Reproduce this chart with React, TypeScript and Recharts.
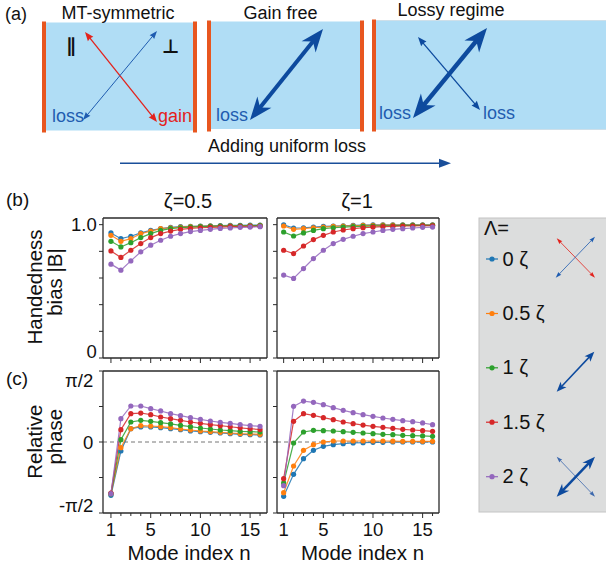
import React from 'react';
import { LineChart, Line, XAxis, YAxis, ReferenceLine } from 'recharts';

const FONT = '"Liberation Sans", Arial, Helvetica, sans-serif';

// ---------- data ----------
const modeIndex = [1, 2, 3, 4, 5, 6, 7, 8, 9, 10, 11, 12, 13, 14, 15, 16];
const xMajorTicks = [1, 5, 10, 15];
const lambdaLabels = ['0 ζ', '0.5 ζ', '1 ζ', '1.5 ζ', '2 ζ'];
const seriesColors = ['#1f77b4', '#ff7f0e', '#2ca02c', '#d62728', '#9467bd'];

// (b) handedness bias |B|, zeta = 0.5
const biasZ05_L0 = [0.938, 0.895, 0.913, 0.938, 0.957, 0.97, 0.98, 0.985, 0.987, 0.99, 0.992, 0.993, 0.995, 0.995, 0.996, 0.997];
const biasZ05_L05 = [0.92, 0.875, 0.895, 0.933, 0.952, 0.97, 0.977, 0.982, 0.985, 0.987, 0.989, 0.99, 0.991, 0.992, 0.993, 0.994];
const biasZ05_L1 = [0.875, 0.833, 0.865, 0.903, 0.933, 0.957, 0.97, 0.977, 0.982, 0.985, 0.987, 0.99, 0.99, 0.991, 0.992, 0.993];
const biasZ05_L15 = [0.803, 0.754, 0.808, 0.858, 0.903, 0.933, 0.952, 0.965, 0.972, 0.977, 0.98, 0.982, 0.985, 0.986, 0.987, 0.988];
const biasZ05_L2 = [0.704, 0.659, 0.728, 0.796, 0.846, 0.883, 0.913, 0.933, 0.948, 0.957, 0.965, 0.972, 0.975, 0.98, 0.982, 0.985];

// (b) handedness bias |B|, zeta = 1
const biasZ1_L0 = [0.998, 0.975, 0.977, 0.982, 0.987, 0.99, 0.992, 0.995, 0.997, 0.998, 0.998, 0.998, 0.998, 0.998, 0.998, 0.998];
const biasZ1_L05 = [0.99, 0.965, 0.97, 0.977, 0.982, 0.987, 0.99, 0.992, 0.995, 0.995, 0.997, 0.997, 0.997, 0.997, 0.997, 0.997];
const biasZ1_L1 = [0.945, 0.915, 0.938, 0.957, 0.97, 0.977, 0.982, 0.985, 0.987, 0.99, 0.992, 0.992, 0.995, 0.995, 0.995, 0.995];
const biasZ1_L15 = [0.808, 0.783, 0.84, 0.888, 0.92, 0.945, 0.96, 0.97, 0.977, 0.982, 0.985, 0.987, 0.99, 0.99, 0.992, 0.992];
const biasZ1_L2 = [0.622, 0.597, 0.671, 0.746, 0.808, 0.858, 0.89, 0.913, 0.933, 0.945, 0.957, 0.965, 0.97, 0.975, 0.98, 0.982];

// (c) relative phase in units of pi/2, zeta = 0.5
const phaseZ05_L0 = [-0.751, -0.127, 0.188, 0.211, 0.211, 0.202, 0.188, 0.174, 0.155, 0.146, 0.136, 0.127, 0.117, 0.108, 0.103, 0.099];
const phaseZ05_L05 = [-0.728, -0.08, 0.188, 0.23, 0.225, 0.216, 0.202, 0.183, 0.169, 0.155, 0.146, 0.136, 0.127, 0.117, 0.113, 0.108];
const phaseZ05_L1 = [-0.728, 0.033, 0.282, 0.305, 0.291, 0.272, 0.254, 0.235, 0.216, 0.197, 0.183, 0.169, 0.16, 0.15, 0.145, 0.141];
const phaseZ05_L15 = [-0.718, 0.174, 0.399, 0.408, 0.385, 0.352, 0.329, 0.305, 0.282, 0.263, 0.244, 0.23, 0.215, 0.2, 0.187, 0.176];
const phaseZ05_L2 = [-0.728, 0.329, 0.507, 0.507, 0.469, 0.437, 0.399, 0.371, 0.343, 0.319, 0.296, 0.277, 0.263, 0.245, 0.232, 0.22];

// (c) relative phase in units of pi/2, zeta = 1
const phaseZ1_L0 = [-0.765, -0.455, -0.235, -0.117, -0.061, -0.038, -0.023, -0.014, -0.009, -0.005, -0.005, 0, 0, 0, 0, 0];
const phaseZ1_L05 = [-0.714, -0.338, -0.117, -0.038, 0, 0.014, 0.014, 0.014, 0.014, 0.014, 0.014, 0.012, 0.01, 0.01, 0.01, 0.01];
const phaseZ1_L1 = [-0.577, -0.014, 0.141, 0.164, 0.16, 0.155, 0.146, 0.136, 0.127, 0.117, 0.108, 0.103, 0.094, 0.089, 0.085, 0.08];
const phaseZ1_L15 = [-0.516, 0.291, 0.399, 0.376, 0.343, 0.315, 0.282, 0.258, 0.239, 0.221, 0.207, 0.192, 0.178, 0.169, 0.16, 0.15];
const phaseZ1_L2 = [-0.615, 0.502, 0.577, 0.559, 0.526, 0.484, 0.446, 0.413, 0.385, 0.362, 0.338, 0.319, 0.3, 0.286, 0.268, 0.244];

const biasTicks = [0, 0.2, 0.4, 0.6, 0.8, 1.0];
const biasTickLabels: Record<string, string> = { '0': '0', '1': '1.0' };
const phaseTicks = [-1, -0.5, 0, 0.5, 1];
const phaseTickLabels: Record<string, string> = { '-1': '-π/2', '0': '0', '1': 'π/2' };

const keys = ['s0', 's1', 's2', 's3', 's4'];

function makeRows(series: number[][]) {
  return modeIndex.map((n, i) => {
    const row: any = { n };
    series.forEach((s, k) => {
      row[keys[k]] = s[i];
    });
    return row;
  });
}

const rowsBiasZ05 = makeRows([biasZ05_L0, biasZ05_L05, biasZ05_L1, biasZ05_L15, biasZ05_L2]);
const rowsBiasZ1 = makeRows([biasZ1_L0, biasZ1_L05, biasZ1_L1, biasZ1_L15, biasZ1_L2]);
const rowsPhaseZ05 = makeRows([phaseZ05_L0, phaseZ05_L05, phaseZ05_L1, phaseZ05_L15, phaseZ05_L2]);
const rowsPhaseZ1 = makeRows([phaseZ1_L0, phaseZ1_L05, phaseZ1_L1, phaseZ1_L15, phaseZ1_L2]);

// ---------- panel ----------
const AX = '#2a2a2a';
const TICK_FS = 18.5;

type PanelProps = {
  left: number; top: number; plotW: number; plotH: number;
  data: any[]; xDomain: [number, number]; yDomain: [number, number];
  yTicks: number[]; yLabels: Record<string, string> | null; yLabelShift: Record<string, number>;
  yLabelGap: number; showXLabels: boolean; zeroLine: boolean;
};

function Panel(p: PanelProps) {
  const W = p.plotW + 70;
  const H = p.plotH + 40;
  const XTick = (props: any) => {
    const { x, y, payload } = props;
    const major = xMajorTicks.includes(payload.value);
    return (
      <g>
        <line x1={x} x2={x} y1={y} y2={y + (major ? 5 : 3)} stroke={AX} strokeWidth={1} />
        {p.showXLabels && major && (
          <text x={x} y={y + 22.5} textAnchor="middle" fontSize={TICK_FS} fontFamily={FONT} fill="#111">
            {payload.value}
          </text>
        )}
      </g>
    );
  };
  const YTick = (props: any) => {
    const { x, y, payload } = props;
    const key = String(payload.value);
    const lab = p.yLabels ? p.yLabels[key] : undefined;
    const shift = p.yLabelShift[key] ?? 6.5;
    return (
      <g>
        <line x1={x - 4} x2={x} y1={y} y2={y} stroke={AX} strokeWidth={1} />
        {lab !== undefined && (
          <text x={x - p.yLabelGap} y={y + shift} textAnchor="end" fontSize={TICK_FS} fontFamily={FONT} fill="#111">
            {lab}
          </text>
        )}
      </g>
    );
  };
  return (
    <div style={{ position: 'absolute', left: p.left - 60, top: p.top - 10 }}>
      <LineChart width={W} height={H} data={p.data} margin={{ top: 10, right: 10, bottom: 0, left: 0 }}>
        <XAxis
          dataKey="n" type="number" domain={p.xDomain} allowDataOverflow ticks={modeIndex} interval={0}
          height={30} tickLine={false} tickSize={0} tickMargin={0} tick={XTick}
          axisLine={{ stroke: AX, strokeWidth: 1.3 }}
        />
        <YAxis
          type="number" domain={p.yDomain} allowDataOverflow ticks={p.yTicks} interval={0}
          width={60} tickLine={false} tickSize={0} tickMargin={0} tick={YTick}
          axisLine={{ stroke: AX, strokeWidth: 1.3 }}
        />
        <ReferenceLine y={p.yDomain[1]} stroke={AX} strokeWidth={1.3} />
        <ReferenceLine x={p.xDomain[1]} stroke={AX} strokeWidth={1.3} />
        {p.zeroLine && <ReferenceLine y={0} stroke="#666" strokeWidth={0.9} strokeDasharray="4 3" />}
        {keys.map((k, i) => (
          <Line
            key={k} type="linear" dataKey={k} stroke={seriesColors[i]} strokeWidth={1.2} strokeOpacity={0.85}
            dot={{ r: 2.6, fill: seriesColors[i], stroke: 'none', strokeWidth: 0 }}
            activeDot={false} isAnimationActive={false}
          />
        ))}
      </LineChart>
    </div>
  );
}

// ---------- schematic helpers ----------
function Arrow({ x1, y1, x2, y2, w, hl, hw, notch = 0.25, color, both = true }: any) {
  const dx = x2 - x1, dy = y2 - y1;
  const L = Math.hypot(dx, dy);
  const ux = dx / L, uy = dy / L;
  const px = -uy, py = ux;
  const head = (tx: number, ty: number, sx: number, sy: number) => {
    const bx = tx - sx * hl, by = ty - sy * hl;
    const nx = tx - sx * hl * (1 - notch), ny = ty - sy * hl * (1 - notch);
    const pts = [
      [tx, ty],
      [bx + px * hw / 2, by + py * hw / 2],
      [nx, ny],
      [bx - px * hw / 2, by - py * hw / 2],
    ];
    return <polygon points={pts.map((q) => q.join(',')).join(' ')} fill={color} />;
  };
  const inset = hl * (1 - notch) * 0.9;
  const sx1 = both ? x1 + ux * inset : x1;
  const sy1 = both ? y1 + uy * inset : y1;
  return (
    <g>
      <line x1={sx1} y1={sy1} x2={x2 - ux * inset} y2={y2 - uy * inset} stroke={color} strokeWidth={w} />
      {head(x2, y2, ux, uy)}
      {both && head(x1, y1, -ux, -uy)}
    </g>
  );
}

const BOX = '#b0ddf5';
const BAR = '#e8561f';
const DBLUE = '#0d4a9e';
const TBLUE = '#1f5cb0';
const RED = '#e3221c';

function Overlay() {
  const t = (x: number, y: number, s: string, size = 18, extra: any = {}) => (
    <text x={x} y={y} fontSize={size} fontFamily={FONT} fill="#111" {...extra}>{s}</text>
  );
  const rows = [259, 313.5, 367.8, 422.2, 476.7];
  return (
    <svg width={606} height={572} style={{ position: 'absolute', left: 0, top: 0 }}>
      {/* panel (a) */}
      {t(5, 20, '(a)', 18)}
      <rect x={45.5} y={22.5} width={148} height={108} fill={BOX} />
      <rect x={42} y={21.5} width={4} height={111} fill={BAR} />
      <rect x={193} y={21.5} width={4} height={111} fill={BAR} />
      <rect x={210.5} y={21.5} width={150} height={107.5} fill={BOX} />
      <rect x={207} y={20.5} width={4} height={111} fill={BAR} />
      <rect x={360} y={20.5} width={4} height={111} fill={BAR} />
      <rect x={375.5} y={20.5} width={232} height={109} fill={BOX} stroke="#c9d6de" strokeWidth={0.6} />
      <rect x={372} y={19.5} width={4} height={112} fill={BAR} />
      {t(118, 18.5, 'MT-symmetric', 18, { textAnchor: 'middle' })}
      {t(280.5, 18.5, 'Gain free', 18, { textAnchor: 'middle' })}
      {t(451, 15.5, 'Lossy regime', 18, { textAnchor: 'middle' })}
      <text x={71} y={52} fontSize={19} fontWeight="bold" fontFamily='"DejaVu Sans", sans-serif' textAnchor="middle" fill="#111">∥</text>
      <text x={170.5} y={53} fontSize={19} fontWeight="bold" fontFamily='"DejaVu Sans", sans-serif' textAnchor="middle" fill="#111">⊥</text>
      <Arrow x1={85} y1={32} x2={157} y2={122} w={1.3} hl={9} hw={7} notch={0.1} color={RED} />
      <Arrow x1={157} y1={31} x2={83} y2={120} w={1} hl={8} hw={6} notch={0.1} color={TBLUE} />
      {t(52, 122, 'loss', 18, { fill: TBLUE })}
      {t(158, 122, 'gain', 18, { fill: RED })}
      <Arrow x1={250} y1={120} x2={323} y2={29} w={4} hl={23} hw={18} notch={0.3} color={DBLUE} />
      {t(216, 121, 'loss', 18, { fill: TBLUE })}
      <Arrow x1={418} y1={37} x2={480} y2={110} w={1.3} hl={9} hw={7} notch={0.1} color={DBLUE} />
      <Arrow x1={413} y1={118} x2={487} y2={28} w={4.5} hl={24} hw={19} notch={0.3} color={DBLUE} />
      {t(379, 119, 'loss', 18, { fill: TBLUE })}
      {t(483, 119, 'loss', 18, { fill: TBLUE })}
      {t(287, 152, 'Adding uniform loss', 18, { textAnchor: 'middle' })}
      <Arrow x1={120} y1={163.3} x2={451} y2={163.3} w={1.5} hl={12} hw={9} notch={0} color="#1a4f9a" both={false} />

      {/* panel labels */}
      {t(6, 206, '(b)', 19)}
      {t(6, 384.5, '(c)', 19)}
      {t(188, 207.5, 'ζ=0.5', 20, { textAnchor: 'middle' })}
      {t(357, 207.5, 'ζ=1', 20, { textAnchor: 'middle' })}
      <text transform="translate(41.7,287) rotate(-90)" textAnchor="middle" fontSize={20.5} fontFamily={FONT} fill="#111">Handedness</text>
      <text transform="translate(62,282) rotate(-90)" textAnchor="middle" fontSize={20.5} fontFamily={FONT} fill="#111">bias |B|</text>
      <text transform="translate(41.7,441.7) rotate(-90)" textAnchor="middle" fontSize={20.5} fontFamily={FONT} fill="#111">Relative</text>
      <text transform="translate(62,436.7) rotate(-90)" textAnchor="middle" fontSize={20.5} fontFamily={FONT} fill="#111">phase</text>
      {t(189, 560, 'Mode index n', 20.5, { textAnchor: 'middle' })}
      {t(362.5, 560, 'Mode index n', 20.5, { textAnchor: 'middle' })}

      {/* legend */}
      <rect x={479} y={218} width={130} height={294} fill="#dcdddd" stroke="#c4c4c4" strokeWidth={1} />
      {t(484, 234.5, 'Λ=', 20)}
      {rows.map((ry, i) => (
        <g key={i}>
          <line x1={486} x2={498} y1={ry} y2={ry} stroke={seriesColors[i]} strokeWidth={1.2} />
          <circle cx={492} cy={ry} r={2.6} fill={seriesColors[i]} />
          {t(502.5, ry + 6.5, lambdaLabels[i], 20)}
        </g>
      ))}
      <Arrow x1={556.7} y1={238.3} x2={595} y2={277.7} w={0.8} hl={6} hw={4} notch={0.1} color={RED} />
      <Arrow x1={595} y1={236.7} x2={555.7} y2={277.7} w={0.8} hl={6} hw={4} notch={0.1} color={TBLUE} />
      <Arrow x1={556.7} y1={391.7} x2={594.3} y2={351.7} w={1.5} hl={10} hw={8} notch={0.25} color={DBLUE} />
      <Arrow x1={556.7} y1={456.7} x2={595} y2={496.7} w={0.8} hl={6} hw={4} notch={0.1} color="#3c68ad" />
      <Arrow x1={556.7} y1={496.7} x2={595} y2={456.7} w={2.5} hl={13} hw={10} notch={0.3} color={DBLUE} />
    </svg>
  );
}

export default function App() {
  const biasShift = { '1': 6.5, '0': 0 };
  const phaseShift = { '1': 16, '0': 6.6, '-1': -1 };
  return (
    <div style={{ position: 'absolute', left: 0, top: 0, width: 606, height: 572, background: '#fff', overflow: 'hidden' }}>
      <Overlay />
      <Panel left={103} top={218} plotW={164} plotH={140} data={rowsBiasZ05} xDomain={[0.2, 16.7]} yDomain={[0, 1.05]}
        yTicks={biasTicks} yLabels={biasTickLabels} yLabelShift={biasShift} yLabelGap={6.3} showXLabels={false} zeroLine={false} />
      <Panel left={277} top={218} plotW={162} plotH={140} data={rowsBiasZ1} xDomain={[0.33, 16.65]} yDomain={[0, 1.05]}
        yTicks={biasTicks} yLabels={null} yLabelShift={biasShift} yLabelGap={6.3} showXLabels={false} zeroLine={false} />
      <Panel left={103} top={371} plotW={164} plotH={142} data={rowsPhaseZ05} xDomain={[0.2, 16.7]} yDomain={[-1, 1]}
        yTicks={phaseTicks} yLabels={phaseTickLabels} yLabelShift={phaseShift} yLabelGap={9.7} showXLabels={true} zeroLine={true} />
      <Panel left={277} top={371} plotW={162} plotH={142} data={rowsPhaseZ1} xDomain={[0.33, 16.65]} yDomain={[-1, 1]}
        yTicks={phaseTicks} yLabels={null} yLabelShift={phaseShift} yLabelGap={9.7} showXLabels={true} zeroLine={true} />
    </div>
  );
}
